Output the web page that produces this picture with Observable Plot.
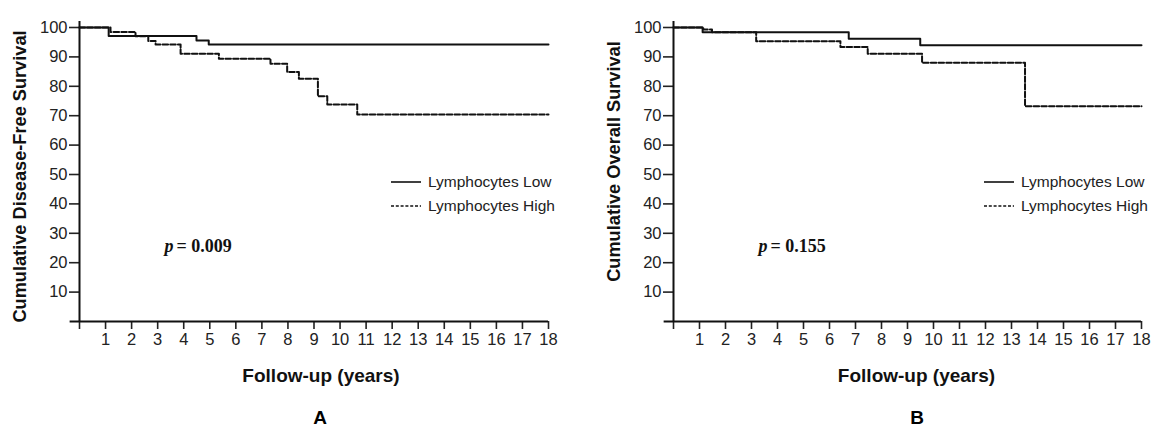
<!DOCTYPE html>
<html><head><meta charset="utf-8">
<script src="https://cdn.jsdelivr.net/npm/d3@7"></script>
<script src="https://cdn.jsdelivr.net/npm/@observablehq/plot@0.6"></script>
<style>
body{margin:0;background:#fff;width:1155px;height:434px;overflow:hidden;position:relative;font-family:"Liberation Sans",Arial,sans-serif}
.panel{position:absolute;top:0}
.panel svg g[aria-label$="tick label"] text{font-size:16.5px;fill:#222;font-family:"Liberation Sans Narrow","Arial Narrow",sans-serif}
.legend{position:absolute;font-size:15.5px;color:#222}
.legend div{display:flex;align-items:center;height:24px;white-space:nowrap}
.legend svg{margin-right:7px}
.letter{position:absolute;font-weight:bold;font-size:19px;top:407px;transform:translateX(-50%)}
</style></head><body>
<div id="A" class="panel" style="left:0"></div>
<div id="B" class="panel" style="left:578px"></div>
<script>
// ---- data (Kaplan-Meier step points) ----
const seriesNames = ["Lymphocytes Low", "Lymphocytes High"];
const yTicks = [10, 20, 30, 40, 50, 60, 70, 80, 90, 100];
const xTicks = [0, 1, 2, 3, 4, 5, 6, 7, 8, 9, 10, 11, 12, 13, 14, 15, 16, 17, 18];

// Panel A: Disease-free survival
const aLowTime  = [0, 1.12, 4.49, 4.96, 18];
const aLowSurv  = [100, 97.1, 95.6, 94.2, 94.2];
const aHighTime = [0, 1.19, 2.15, 2.64, 2.92, 3.88, 5.35, 7.33, 7.97, 8.42, 9.15, 9.51, 10.66, 18];
const aHighSurv = [100, 98.5, 97.0, 95.4, 94.2, 91.1, 89.4, 87.7, 84.9, 82.6, 76.6, 73.8, 70.4, 70.4];

// Panel B: Overall survival
const bLowTime  = [0, 1.12, 6.74, 9.49, 18];
const bLowSurv  = [100, 98.4, 96.2, 94.0, 94.0];
const bHighTime = [0, 1.15, 1.48, 3.18, 6.42, 7.47, 9.56, 13.52, 18];
const bHighSurv = [100, 99.3, 98.4, 95.3, 93.4, 91.1, 88.0, 73.2, 73.2];

const panelTitles = ["Cumulative Disease-Free Survival", "Cumulative Overall Survival"];
const pValues = ["0.009", "0.155"];
const panelLetters = ["A", "B"];
const xTitle = "Follow-up (years)";

const toRows = (t, s) => t.map((d, i) => ({t: d, s: s[i]}));
const serif = "'Liberation Serif', 'Times New Roman', serif";

function panel({lowT, lowS, highT, highS, title, pval, width, marginLeft, marginRight, titleDy, xTitleDx}) {
  const low = toRows(lowT, lowS), high = toRows(highT, highS);
  return Plot.plot({
    width, height: 400,
    marginLeft, marginRight, marginTop: 27, marginBottom: 79,
    x: {domain: [0, 18]},
    y: {domain: [0, 100]},
    style: {fontFamily: "'Liberation Sans', Arial, sans-serif", fontSize: "14px", color: "#222", background: "white", overflow: "visible"},
    marks: [
      Plot.axisY({ticks: yTicks, tickSize: 10, tickPadding: 2, label: null, strokeWidth: 1.6}),
      Plot.axisX({ticks: xTicks, tickSize: 8, tickPadding: 4, label: null, strokeWidth: 1.6,
                  tickFormat: d => d === 0 ? "" : String(d)}),
      Plot.ruleX([0], {y1: 0, y2: 102, stroke: "#111", strokeWidth: 2}),
      Plot.ruleY([0], {x1: -0.36, x2: 18, stroke: "#111", strokeWidth: 2}),
      Plot.line(low, {x: "t", y: "s", curve: "step-after", stroke: "#111", strokeWidth: 2}),
      Plot.line(high, {x: "t", y: "s", curve: "step-after", stroke: "#111", strokeWidth: 2, strokeDasharray: "5.5,2.2"}),
      Plot.text([title], {frameAnchor: "left", textAnchor: "middle", rotate: -90, dx: -59, dy: titleDy, fontWeight: "bold", fontSize: 18.2, fill: "#111"}),
      Plot.text([xTitle], {frameAnchor: "bottom", textAnchor: "middle", dx: xTitleDx, dy: 60, fontWeight: "bold", fontSize: 19, fill: "#111"}),
      Plot.text(["p"], {frameAnchor: "top-left", dx: 85, dy: 212, textAnchor: "start", fontFamily: serif, fontStyle: "italic", fontWeight: "bold", fontSize: 18, fill: "#111"}),
      Plot.text(["= " + pval], {frameAnchor: "top-left", dx: 97, dy: 212, textAnchor: "start", fontFamily: serif, fontWeight: "bold", fontSize: 18, fill: "#111"})
    ]
  });
}

document.getElementById("A").append(panel({
  lowT: aLowTime, lowS: aLowSurv, highT: aHighTime, highS: aHighSurv,
  title: panelTitles[0], pval: pValues[0], width: 578, marginLeft: 79, marginRight: 30, titleDy: 2, xTitleDx: 7
}));
document.getElementById("B").append(panel({
  lowT: bLowTime, lowS: bLowSurv, highT: bHighTime, highS: bHighSurv,
  title: panelTitles[1], pval: pValues[1], width: 577, marginLeft: 95, marginRight: 14, titleDy: -13, xTitleDx: 9
}));

// legends
function legend(left, top) {
  const el = document.createElement("div");
  el.className = "legend";
  el.style.left = left + "px";
  el.style.top = top + "px";
  seriesNames.forEach((name, i) => {
    const row = document.createElement("div");
    row.innerHTML = `<svg width="30" height="6"><line x1="0" x2="30" y1="3" y2="3" stroke="#111" stroke-width="1.6" ${i ? 'stroke-dasharray="3,1.8"' : ''}/></svg><span>${name}</span>`;
    el.append(row);
  });
  document.body.append(el);
}
legend(391, 170);
legend(984, 170);

// panel letters
[[320, panelLetters[0]], [917, panelLetters[1]]].forEach(([x, t]) => {
  const d = document.createElement("div");
  d.className = "letter";
  d.style.left = x + "px";
  d.textContent = t;
  document.body.append(d);
});
</script>
</body></html>
